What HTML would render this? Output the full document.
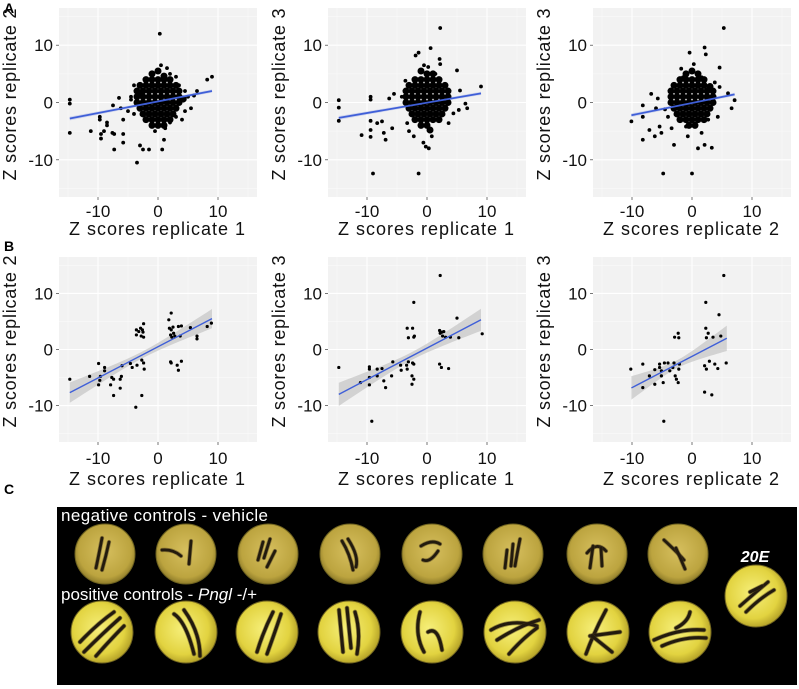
<!DOCTYPE html>
<html><head><meta charset="utf-8"><style>
html,body{margin:0;padding:0;background:#fff;width:799px;height:689px;overflow:hidden}
svg{display:block}
text{font-family:"Liberation Sans",sans-serif}
</style></head><body>
<svg id="fig" width="799" height="689" viewBox="0 0 799 689">
<text x="4" y="13" font-size="14" font-weight="bold">A</text>
<text x="4" y="251" font-size="14" font-weight="bold">B</text>
<text x="4" y="494" font-size="14" font-weight="bold">C</text>
<g id="charts"></g>
<g id="panelc">
 <defs>
  <radialGradient id="gTop" cx="50%" cy="45%" r="55%"><stop offset="0" stop-color="#d6bf5e"/><stop offset="0.8" stop-color="#bca43f"/><stop offset="1" stop-color="#8f7c2a"/></radialGradient>
  <radialGradient id="gBot" cx="45%" cy="45%" r="55%"><stop offset="0" stop-color="#f6ef7a"/><stop offset="0.75" stop-color="#e2d340"/><stop offset="1" stop-color="#b9a72a"/></radialGradient>
 </defs>
 <rect x="57" y="507" width="740" height="178" fill="#000"/>
 <text x="61" y="521" font-size="17" fill="#fff" textLength="207">negative controls - vehicle</text>
 <text x="61" y="600" font-size="17" fill="#fff">positive controls - <tspan font-style="italic">Pngl</tspan> -/+</text>
 <text x="755" y="562" font-size="16" font-weight="bold" font-style="italic" fill="#fff" text-anchor="middle">20E</text>
</g>
</svg>
<script>
// ---------- data ----------
const xTicks = [-10, 0, 10];
const yTicks = [-10, 0, 10];
const xTickLabels = ["-10", "0", "10"];
const yTickLabels = ["-10", "0", "10"];
const xTitles = ["Z scores replicate 1","Z scores replicate 1","Z scores replicate 2","Z scores replicate 1","Z scores replicate 1","Z scores replicate 2"];
const yTitles = ["Z scores replicate 2","Z scores replicate 3","Z scores replicate 3","Z scores replicate 2","Z scores replicate 3","Z scores replicate 3"];
const fitIntercept = [0.18, -0.03, -0.08, 0.49, 0.25, -1.23];
const fitSlope = [0.2025, 0.181, 0.212, 0.557, 0.561, 0.557];
const fitXmin = [-14.7, -14.7, -10.1, -14.7, -14.7, -10.1];
const fitXmax = [9, 9, 7.1, 9, 9, 5.8];
const bandA = [0.25, 0.25, 0.25, 0.6, 0.7, 0.7];
const bandB = [0.015, 0.015, 0.02, 0.14, 0.16, 0.26];
const bandXm = [0, 0, 0, -2.5, -2.5, -2.5];

const a1Points = [[-14.7,0.5],[-14.7,-0.2],[-14.7,-5.3],[-11.2,-5],[-9.7,-2.5],[-9.7,-3],[-9.5,-5.5],[-9.5,-6.3],[-9,-5],[-8.5,-3.5],[-8.5,-4],[-7.6,-5.3],[-7.3,-5.5],[-7.3,-8.2],[-6.2,-1],[-5.8,-3],[-5.8,-5.5],[-5.8,-7],[-5,-1.5],[-4.5,1],[-4,-2],[-3.5,-10.5],[-3,-7.5],[-2.5,-8.2],[-1.5,-8.2],[0.3,12],[0.7,-8.2],[1,-6.5],[0.5,6.5],[1.5,6],[2,5],[3,4.5],[3.5,3],[4.5,2],[5,1],[6,1.2],[6.5,2],[8.2,4],[9,4.5],[5.5,-1],[4,-3],[3,-2.5],[-2,3],[-3,1.5],[-4.5,0.5],[-6.5,0.8],[-7.5,-0.5],[1.2,-4.5],[-0.5,-5],[2,-3.5],[4.5,-1.5],[-4,3]];
const a1Core = [[-1,5],[0,5.5],[1,4.6],[-2,4],[-1,4],[0,4],[1,4],[2,4],[-3,3],[-2,3],[-1,3],[0,3],[1,3],[2,3],[3,3],[-3.5,2],[-2.5,2],[-1.5,2],[-0.5,2],[0.5,2],[1.5,2],[2.5,2],[3.5,2],[-3.5,1],[-2.5,1],[-1.5,1],[-0.5,1],[0.5,1],[1.5,1],[2.5,1],[3.5,1],[4.2,0.6],[-3.5,0],[-2.5,0],[-1.5,0],[-0.5,0],[0.5,0],[1.5,0],[2.5,0],[3.5,0],[-3,-1],[-2,-1],[-1,-1],[0,-1],[1,-1],[2,-1],[3,-1],[-2.5,-2],[-1.5,-2],[-0.5,-2],[0.5,-2],[1.5,-2],[2.5,-2],[-2,-3],[-1,-3],[0,-3],[1,-3],[2,-3],[-1,-4],[0,-4],[1,-4]];
const a2Points = [[-14.7,0.4],[-14.7,-0.9],[-14.7,-3.2],[-10.9,-5.7],[-9.4,1],[-9.4,0.5],[-9.4,-3.2],[-9.4,-4.8],[-9.4,-6],[-9,-12.4],[-8.3,-3.6],[-7.5,-3.3],[-7.2,-5.3],[-6.9,-6.5],[-6.3,0.7],[-5.8,-4.5],[-5.5,1.5],[-1.9,8.2],[-1.4,8.7],[-1.4,-12.4],[0.6,9.5],[2.2,13],[2.1,7.6],[2.2,6.7],[5,5.6],[9,2.8],[6.4,-0.2],[6.7,-1],[5.3,-1.3],[-0.6,-7],[-0.2,-7.7],[0.3,-8],[0.8,-5.9],[-2.2,-5.9],[-3,-5],[-3.3,-3.6],[3.6,-3.6],[4.4,-1.9],[1.4,5],[-3.6,3.8],[-4.2,1],[5.5,2.1],[0.2,6.2],[-0.5,6.5]];
const a2Core = [[-1,5.5],[0,5],[1,5],[-2,4],[-1,4],[0,4],[1,4],[2,4],[-3,3],[-2,3],[-1,3],[0,3],[1,3],[2,3],[3,3],[-3.5,2],[-2.5,2],[-1.5,2],[-0.5,2],[0.5,2],[1.5,2],[2.5,2],[3.5,2],[-3.5,1],[-2.5,1],[-1.5,1],[-0.5,1],[0.5,1],[1.5,1],[2.5,1],[3.5,1],[-3.5,0],[-2.5,0],[-1.5,0],[-0.5,0],[0.5,0],[1.5,0],[2.5,0],[3.5,0],[-3,-1],[-2,-1],[-1,-1],[0,-1],[1,-1],[2,-1],[3,-1],[-2.5,-2],[-1.5,-2],[-0.5,-2],[0.5,-2],[1.5,-2],[2.5,-2],[-2,-3],[-1,-3],[0,-3],[1,-3],[2,-3],[-1,-4],[0,-4],[0.5,-4.8]];
const a3Points = [[-10.1,-3.3],[-8.2,-0.5],[-8.2,-2.5],[-8.2,-6.5],[-6.8,1.5],[-7.1,-4.8],[-6.2,-5.9],[-5.7,0.7],[-5.4,-4.2],[-5.1,-5.3],[-4.8,-12.4],[-4,-2.5],[-3.4,-4.5],[-3,-7.4],[-1.8,5.9],[-0.4,8.7],[0.3,6.7],[1,-8],[2.1,9.6],[2.3,8.4],[2.1,-7.4],[3.3,-7.9],[4.6,6.1],[5.3,13],[0,-12.4],[4.6,2.7],[4.3,-2.5],[6.6,-1],[7.1,0.4],[6,1.6],[-0.7,-5.9],[-1,-4.2],[1.6,-5.3],[2.7,-3],[-1.5,4.4],[1.6,4.4],[-6,-1],[-4.5,-1.2],[3.8,3.5]];
const a3Core = [[-1,5],[0,5.5],[1,5],[-2,4],[-1,4],[0,4],[1,4],[2,4],[-3,3],[-2,3],[-1,3],[0,3],[1,3],[2,3],[3,2.8],[-3.5,2],[-2.5,2],[-1.5,2],[-0.5,2],[0.5,2],[1.5,2],[2.5,2],[3.5,2],[-3.5,1],[-2.5,1],[-1.5,1],[-0.5,1],[0.5,1],[1.5,1],[2.5,1],[3.5,1],[-3.5,0],[-2.5,0],[-1.5,0],[-0.5,0],[0.5,0],[1.5,0],[2.5,0],[3.5,0],[-3,-1],[-2,-1],[-1,-1],[0,-1],[1,-1],[2,-1],[3,-1],[-2.5,-2],[-1.5,-2],[-0.5,-2],[0.5,-2],[1.5,-2],[2.5,-2],[-2,-3],[-1,-3],[0,-3],[1,-3],[2,-3],[-0.5,-4],[0.5,-4]];
const b1Points = [[-14.7,-5.3],[-11.4,-4.8],[-9.9,-2.5],[-9.9,-6.3],[-9.7,-5.5],[-9.6,-4.8],[-8.9,-3.2],[-8.9,-3.8],[-7.9,-6.3],[-7.7,-5],[-7.4,-8.2],[-7.4,-5.3],[-6.3,-5.3],[-6.3,-6.9],[-6.1,-4.8],[-6,-2.9],[-4.6,-2.5],[-4.3,-3.2],[-3.7,-10.3],[-3.6,3.5],[-3.6,2.6],[-3.5,-2.8],[-3.2,3.2],[-2.9,3.8],[-2.8,2.4],[-2.7,-1.9],[-2.6,3.5],[-2.5,3.1],[-2.4,2.2],[-2.4,4.6],[-2.7,-8.2],[-2.4,-2.4],[-2.3,-3.5],[1.8,5.3],[2.2,6.5],[1.9,3.8],[2.1,2.6],[2.2,3.5],[2.3,2.2],[2.5,4],[2.6,2.9],[2.8,2.4],[2.1,-2.2],[2.2,-2.4],[3.2,-2.8],[3.4,-3.7],[3.9,-2.1],[3.4,4.1],[3.7,2.4],[3.9,4.2],[5.4,3.9],[8.2,4.1],[8.9,4.7],[6.5,2.4],[6.5,1.9]];
const b2Points = [[-14.7,-3.2],[-11.1,-5.9],[-9.6,-3.1],[-9.6,-3.5],[-9.6,-5],[-9.6,-6.3],[-9.2,-12.8],[-8.3,-3.5],[-8.3,-4.7],[-7.5,-3.4],[-7.2,-5.6],[-6.9,-6.8],[-5.9,-4.7],[-5.7,-2.2],[-4.4,-2.8],[-4.3,-3.7],[-3.4,-2.8],[-3.3,-3.5],[-3.3,3.8],[-3.1,2.1],[-3.1,-2.2],[-2.2,8.4],[-2.4,3.8],[-2.2,2.2],[-2.1,2.4],[-2.4,-2.4],[-2.2,-2.6],[-2.5,-4.7],[-2.2,-5.3],[-2.5,-6.2],[2.2,13.2],[2.1,3.4],[2.2,2.9],[2.5,3.1],[2.8,3.2],[2.6,2.4],[3.1,2.2],[3.9,2.2],[2.1,-2.6],[2.4,-3.2],[3.6,-3.4],[5,5.6],[5.3,2.1],[9.2,2.8]];
const b3Points = [[-10.2,-3.5],[-8.2,-2.6],[-8.2,-6.8],[-7.1,-4.7],[-6.2,-6.2],[-6.2,-3.6],[-5.4,-2.6],[-5.4,-3.2],[-5.1,-3.8],[-5.1,-4.7],[-4.8,-5.9],[-4.7,-12.8],[-4.6,-2.4],[-4,-2.4],[-3.7,-3.8],[-3.2,-3.2],[-3,-2.4],[-2.8,-4.7],[-2.9,2.2],[-2.3,2.9],[-2.2,2.1],[-2.1,-2.6],[-2.2,-3.5],[-2.3,-5.9],[-2.6,-5.3],[2.3,8.4],[2.3,3.8],[2.4,2.1],[2.7,2.9],[2.1,-2.9],[2.4,-3.5],[2.1,-7.6],[2.9,-2.1],[3.3,-8.1],[3.5,2.2],[3.8,-2.6],[4.3,-3.4],[4.5,6.2],[4.8,2.4],[5.3,13.2],[5.7,-2.4]];

// ---------- layout (not data) ----------
const NS = "http://www.w3.org/2000/svg";
const lefts = [59, 328, 593];
const PW = 198, DOM = 16.5;
const rowsTop = [8, 257], rowsH = [189, 185];
const tickBase = [217, 464], titleBase = [235, 485];
const pointSets = [a1Points, a2Points, a3Points, b1Points, b2Points, b3Points];
const coreSets = [a1Core, a2Core, a3Core, null, null, null];
const root = document.getElementById('charts');

function mk(tag, attrs, parent) {
  const e = document.createElementNS(NS, tag);
  for (const k in attrs) e.setAttribute(k, attrs[k]);
  parent.appendChild(e);
  return e;
}

for (let i = 0; i < 6; i++) {
  const row = Math.floor(i / 3), col = i % 3;
  const L = lefts[col], T = rowsTop[row], H = rowsH[row];
  const xs = v => L + (v + DOM) / (2 * DOM) * PW;
  const ys = v => T + (DOM - v) / (2 * DOM) * H;
  const g = mk('g', {}, root);
  
  
  const bg = mk('rect', {x: L, y: T, width: PW, height: H, fill: '#f2f2f2'}, g);
  
  
  [-15, -5, 5, 15].forEach(v => {
    mk('line', {x1: xs(v), x2: xs(v), y1: T, y2: T + H, stroke: '#fafafa', 'stroke-width': 0.6}, g);
    mk('line', {x1: L, x2: L + PW, y1: ys(v), y2: ys(v), stroke: '#fafafa', 'stroke-width': 0.6}, g);
  });
  xTicks.forEach((v, k) => {
    const gl = mk('line', {x1: xs(v), x2: xs(v), y1: T, y2: T + H, stroke: '#fff', 'stroke-width': 1.1}, g);
    
    
    mk('line', {x1: xs(v), x2: xs(v), y1: T + H, y2: T + H + 3, stroke: '#555', 'stroke-width': 0.8}, g);
    const t = mk('text', {x: xs(v), y: tickBase[row], 'font-size': 17, 'text-anchor': 'middle', fill: '#111'}, g);
    t.textContent = xTickLabels[k];
    
    
  });
  yTicks.forEach((v, k) => {
    const gl = mk('line', {x1: L, x2: L + PW, y1: ys(v), y2: ys(v), stroke: '#fff', 'stroke-width': 1.1}, g);
    
    
    mk('line', {x1: L - 3, x2: L, y1: ys(v), y2: ys(v), stroke: '#555', 'stroke-width': 0.8}, g);
    const t = mk('text', {x: L - 6, y: ys(v) + 6, 'font-size': 17, 'text-anchor': 'end', fill: '#111'}, g);
    t.textContent = yTickLabels[k];
    
    
  });
  const xt = mk('text', {x: L + PW / 2 - 1, y: titleBase[row], 'font-size': 18, 'text-anchor': 'middle', fill: '#111', textLength: 176}, g);
  xt.textContent = xTitles[i];
  
  
  const cy = T + H / 2 - 8, cx = L - 37;
  const yt = mk('text', {x: cy * 0 + cx, y: cy, 'font-size': 18, 'text-anchor': 'middle', fill: '#111', textLength: 172, transform: `rotate(-90 ${cx} ${cy}) translate(0 -6)`}, g);
  yt.textContent = yTitles[i];
  
  

  // confidence band
  const x0 = fitXmin[i], x1 = fitXmax[i], n = 30;
  const up = [], lo = [];
  for (let s = 0; s <= n; s++) {
    const x = x0 + (x1 - x0) * s / n;
    const yv = fitIntercept[i] + fitSlope[i] * x;
    const hw = Math.sqrt(bandA[i] * bandA[i] + Math.pow(bandB[i] * (x - bandXm[i]), 2));
    up.push(xs(x) + ',' + ys(yv + hw));
    lo.unshift(xs(x) + ',' + ys(yv - hw));
  }
  const band = mk('polygon', {points: up.concat(lo).join(' '), fill: row ? '#bdbdbd' : '#b8bfe8', 'fill-opacity': 0.6}, g);
  
  

  // points
  const r = row ? 1.6 : 1.9;
  pointSets[i].forEach(p => {
    const c = mk('circle', {cx: xs(p[0]), cy: ys(p[1]), r: r, fill: '#000'}, g);
    
    
  });
  if (coreSets[i]) coreSets[i].forEach(p => {
    const c = mk('circle', {cx: xs(p[0]), cy: ys(p[1]), r: 3.5, fill: '#000'}, g);
    
    
  });

  const fl = mk('line', {x1: xs(x0), y1: ys(fitIntercept[i] + fitSlope[i] * x0), x2: xs(x1), y2: ys(fitIntercept[i] + fitSlope[i] * x1), stroke: '#3f5fd8', 'stroke-width': row ? 1.4 : 1.8}, g);
  
  
}

// ---------- panel C photos ----------
const pc = document.getElementById('panelc');
const topX = [105, 186, 268, 350, 432, 513, 597, 678];
const botX = [102, 186, 267, 349, 432, 515, 598, 680];
const topWorms = [
 ["M-3,-16 Q-6,0 -9,14","M4,-12 Q1,2 -3,16"],
 ["M-24,-4 Q-13,-5 -5,2","M5,-13 L3,10"],
 ["M-5,-12 L-10,6","M2,-15 L-4,4","M7,-3 L-1,13"],
 ["M-8,-13 Q0,0 3,16","M-2,-15 Q9,2 6,13"],
 ["M-11,-8 Q0,-15 8,-10","M6,-3 Q-2,9 -9,6"],
 ["M-8,14 L-6,-4","M-2,12 L0,-10","M7,-15 Q4,0 2,12"],
 ["M-10,-1 Q0,-13 9,-3","M-4,-8 L-7,14","M4,-6 L5,12"],
 ["M-14,-14 Q-1,-2 6,6","M-2,-6 L7,15"]
];
const botWorms = [
 ["M-22,10 Q-5,-8 12,-20","M-18,20 Q0,2 18,-14","M-6,24 Q8,8 22,-6"],
 ["M-12,-18 Q0,-10 8,22","M-2,-22 Q14,0 14,24"],
 ["M-10,20 Q-4,0 6,-20","M0,22 Q8,0 14,-18"],
 ["M-10,-22 L-6,20","M-2,-24 L2,16","M6,-20 Q12,0 8,22"],
 ["M-12,-20 Q-18,2 -8,20","M-4,0 Q6,-6 10,18"],
 ["M-24,-2 Q-4,-14 22,-6","M-18,8 Q4,-6 24,-12","M-6,22 Q8,6 22,-4"],
 ["M-12,22 Q-4,0 8,-22","M-8,4 L22,0","M-6,4 L14,20"],
 ["M-26,8 Q0,-4 24,-2","M-18,14 Q4,4 26,6","M-4,-4 Q8,-10 10,-20"]
];
function addDish(x, y, r, grad, worms, w, name) {
  const g = mk('g', {}, pc);
  
  
  mk('circle', {cx: x, cy: y, r: r, fill: `url(#${grad})`, stroke: '#6f6320', 'stroke-width': 1}, g);
  worms.forEach(d => {
    mk('path', {d: d, transform: `translate(${x} ${y})`, fill: 'none', stroke: '#4a3a1c', 'stroke-width': w + 1.5, 'stroke-linecap': 'round', opacity: 0.5}, g);
    mk('path', {d: d, transform: `translate(${x} ${y})`, fill: 'none', stroke: '#221a0e', 'stroke-width': w, 'stroke-linecap': 'round'}, g);
  });
}
topX.forEach((x, k) => addDish(x, 554, 30, 'gTop', topWorms[k], 2.8, 'negative-control-dish'));
botX.forEach((x, k) => addDish(x, 632, 31, 'gBot', botWorms[k], 3.2, 'positive-control-dish'));
addDish(756, 596, 31, 'gBot', ["M-16,10 Q0,-4 12,-14","M-10,16 Q4,2 18,-6","M-6,-4 L6,-10"], 3, '20e-dish');
</script>
</body></html>
